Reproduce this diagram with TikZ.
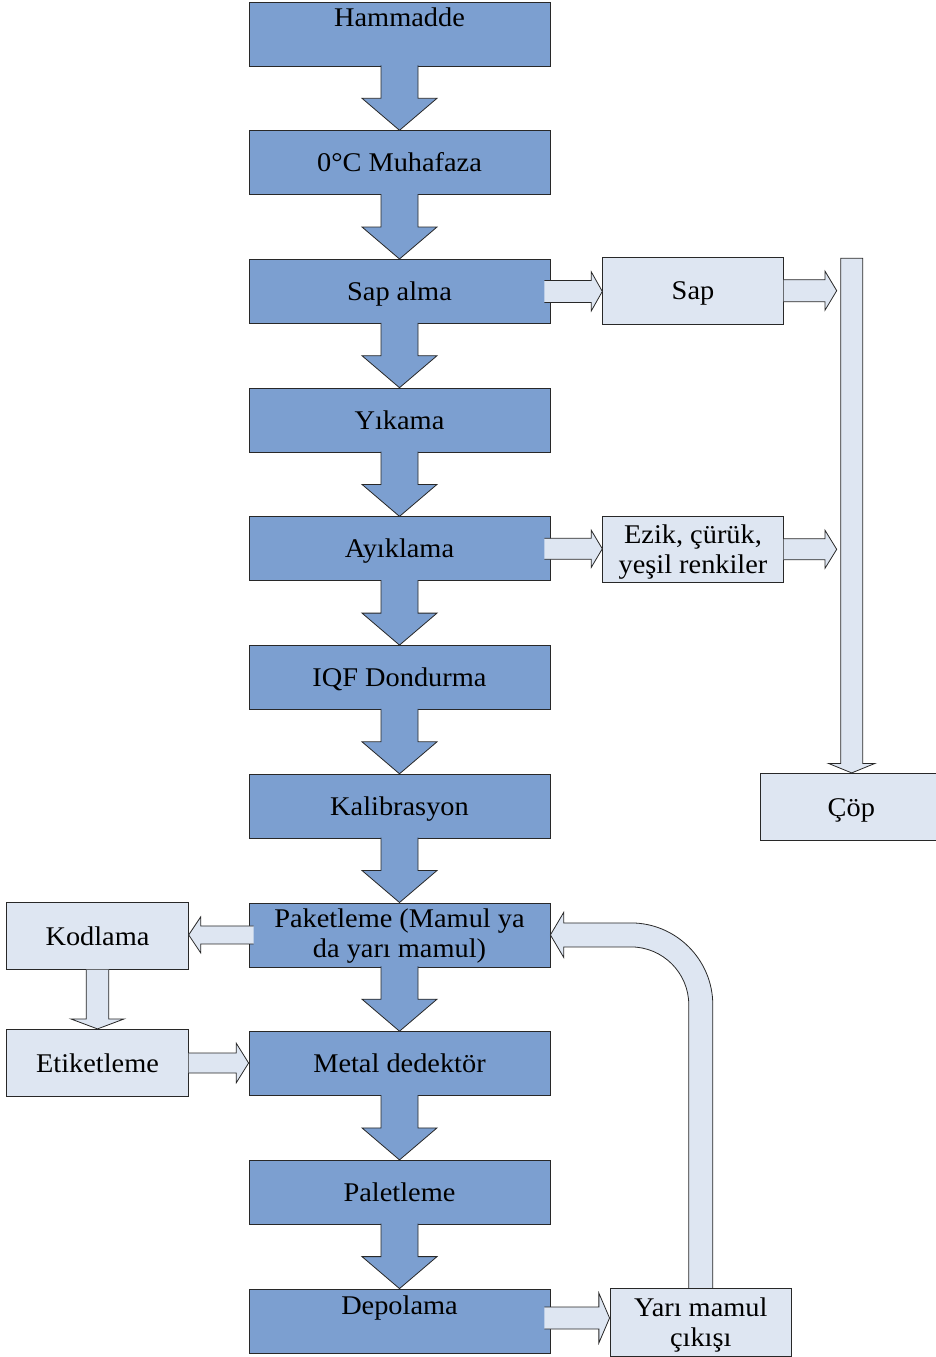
\documentclass[tikz,border=0pt]{standalone}
\usepackage{fontspec}
\setmainfont{Liberation Serif}[FakeStretch=1.05]
\usetikzlibrary{calc}
\definecolor{mainblue}{RGB}{124,159,208}
\definecolor{lightblue}{RGB}{222,230,242}
\definecolor{edgecol}{RGB}{40,40,40}
\newcommand{\dblock}[6]{%
  \filldraw[#1] let \p1=#2, \p2=#3 in
  (\x1-#4pt,\y1) -- (\x1-#4pt,\y2+#6pt) -- (\x1-#5pt,\y2+#6pt) -- (\x1,\y2)
  -- (\x1+#5pt,\y2+#6pt) -- (\x1+#4pt,\y2+#6pt) -- (\x1+#4pt,\y1);}
\newcommand{\rblock}[6]{%
  \filldraw[#1] let \p1=#2, \p2=#3 in
  (\x1,\y1+#4pt) -- (\x2-#6pt,\y1+#4pt) -- (\x2-#6pt,\y1+#5pt) -- (\x2,\y1)
  -- (\x2-#6pt,\y1-#5pt) -- (\x2-#6pt,\y1-#4pt) -- (\x1,\y1-#4pt);}
\newcommand{\lblock}[6]{%
  \filldraw[#1] let \p1=#2, \p2=#3 in
  (\x1,\y1+#4pt) -- (\x2+#6pt,\y1+#4pt) -- (\x2+#6pt,\y1+#5pt) -- (\x2,\y1)
  -- (\x2+#6pt,\y1-#5pt) -- (\x2+#6pt,\y1-#4pt) -- (\x1,\y1-#4pt);}
\newcommand{\topstrut}[1]{\rule{0pt}{#1}}
\tikzset{
  txt/.style={font=\fontsize{27}{30}\selectfont, align=center},
  mainbox/.style={txt, draw=edgecol, fill=mainblue, line width=0.8pt,
    minimum width=301pt, minimum height=64pt, inner sep=0pt},
  onel/.style={text height=21pt, text depth=3pt},
  sidebox/.style={txt, draw=edgecol, fill=lightblue, line width=0.8pt, inner sep=0pt},
  mainarrow/.style={draw=edgecol, fill=mainblue, line width=0.8pt},
  sidearrow/.style={draw=edgecol, fill=lightblue, line width=0.8pt}
}
\begin{document}
\begin{tikzpicture}[x=1pt,y=1pt]
\useasboundingbox (0,0) rectangle (936,-1357);
% main column
\node[mainbox, text height=20pt, text depth=34pt] (ham) at (399.5,-34) {Hammadde};
\node[mainbox, onel] (muh) at (399.5,-162.7) {0°C Muhafaza};
\node[mainbox, onel] (sapalma) at (399.5,-291.4) {Sap alma};
\node[mainbox, onel] (yik) at (399.5,-420.1) {Yıkama};
\node[mainbox, onel] (ayik) at (399.5,-548.8) {Ayıklama};
\node[mainbox, onel] (iqf) at (399.5,-677.5) {IQF Dondurma};
\node[mainbox, onel] (kal) at (399.5,-806.2) {Kalibrasyon};
\node[mainbox] (pak) at (399.5,-934.9) {\topstrut{21pt}Paketleme (Mamul ya\\da yarı mamul)};
\node[mainbox, onel] (met) at (399.5,-1063.6) {Metal dedektör};
\node[mainbox, onel] (pal) at (399.5,-1192.3) {Paletleme};
\node[mainbox, text height=20pt, text depth=34pt] (dep) at (399.5,-1321) {Depolama};
% side boxes
\node[sidebox, onel, minimum width=180.6pt, minimum height=66.7pt] (sap) at (693,-290.7) {Sap};
\node[sidebox, minimum width=180.6pt, minimum height=66.7pt] (ezik) at (693,-549.3) {\topstrut{25pt}Ezik, çürük,\\yeşil renkiler};
\node[sidebox, onel, minimum width=181.3pt, minimum height=67.4pt] (cop) at (851.3,-807) {Çöp};
\node[sidebox, onel, minimum width=181.6pt, minimum height=66.6pt] (kod) at (97.5,-936) {Kodlama};
\node[sidebox, onel, minimum width=181.6pt, minimum height=67.4pt] (etik) at (97.5,-1063) {Etiketleme};
\node[sidebox, minimum width=181.7pt, minimum height=67.7pt] (yari) at (700.8,-1322.2) {\topstrut{25pt}Yarı mamul\\çıkışı};
\coordinate (coltop) at (851.7,-258.3);
\coordinate (colw) at (836.7,0);
% main down arrows
\foreach \a/\b in {ham/muh, muh/sapalma, sapalma/yik, yik/ayik, ayik/iqf, iqf/kal, kal/pak, pak/met, met/pal, pal/dep}{
  \dblock{mainarrow}{($(\a.south)+(0,1)$)}{(\b.north)}{18.5}{37.5}{32}
}
% waste column
\filldraw[sidearrow] let \p1=(coltop), \p2=(cop.north) in
  (\x1-11pt,\y1) -- (\x1-11pt,\y2+9.5pt) -- (\x1-23.3pt,\y2+9.5pt) -- (\x1,\y2)
  -- (\x1+23.3pt,\y2+9.5pt) -- (\x1+11pt,\y2+9.5pt) -- (\x1+11pt,\y1) -- cycle;
% side arrows
\rblock{sidearrow}{($(sapalma.east)+(-6,0)$)}{(sap.west)}{11}{19.5}{11}
\rblock{sidearrow}{(sap.east)}{(sap.east -| colw)}{11}{19.5}{11.7}
\rblock{sidearrow}{($(ayik.east)+(-6,0)$)}{(ezik.west)}{10.5}{18.5}{11}
\rblock{sidearrow}{(ezik.east)}{(ezik.east -| colw)}{10.5}{19}{11.7}
\lblock{sidearrow}{($(pak.west)+(5,0)$)}{(kod.east)}{9}{18}{12}
\dblock{sidearrow}{(kod.south)}{(etik.north)}{11.3}{26.7}{10}
\rblock{sidearrow}{(etik.east)}{(met.west)}{10}{19.7}{12.3}
\rblock{sidearrow}{($(dep.east)+(-6,3)$)}{(yari.west)}{11}{25}{10.7}
% return arrow
\filldraw[sidearrow] let \p1=(yari.north), \p2=(pak.east) in
  (\x1+12pt,\y1) -- (\x1+12pt,\y2-70pt) arc[start angle=0,end angle=90,radius=82pt]
  -- (\x2+13.3pt,\y2+12pt) -- (\x2+13.3pt,\y2+22.5pt) -- (\x2,\y2)
  -- (\x2+13.3pt,\y2-22.5pt) -- (\x2+13.3pt,\y2-12pt) -- (\x1-70pt,\y2-12pt)
  arc[start angle=90,end angle=0,radius=58pt] -- (\x1-12pt,\y1);
\end{tikzpicture}
\end{document}
